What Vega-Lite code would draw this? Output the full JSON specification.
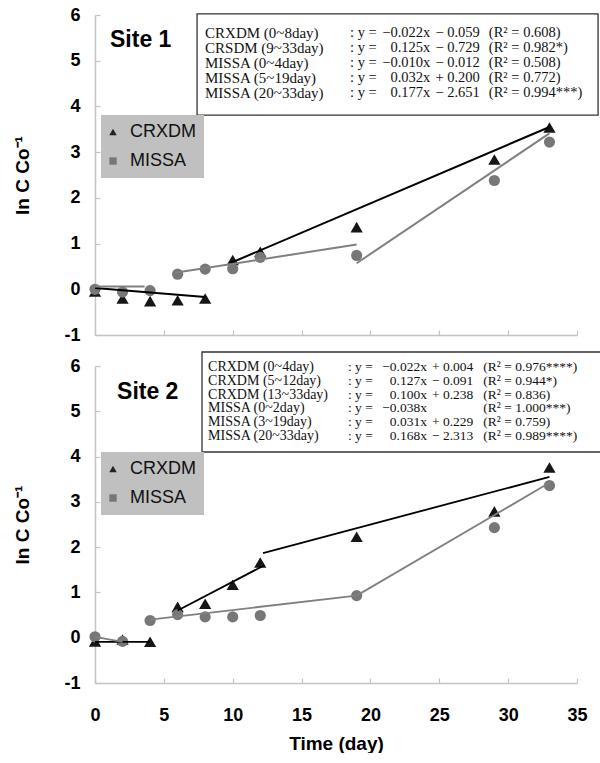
{
  "$schema": "https://vega.github.io/schema/vega-lite/v6.json",
  "background": "white",
  "padding": {"left": 13, "top": 6, "right": 0, "bottom": 0},
  "spacing": 7,
  "datasets": {
    "pts": [
      {"site": 1, "series": "CRXDM", "day": 0, "val": -0.05},
      {"site": 1, "series": "CRXDM", "day": 2, "val": -0.2},
      {"site": 1, "series": "CRXDM", "day": 4, "val": -0.26},
      {"site": 1, "series": "CRXDM", "day": 6, "val": -0.24},
      {"site": 1, "series": "CRXDM", "day": 8, "val": -0.2},
      {"site": 1, "series": "CRXDM", "day": 10, "val": 0.64},
      {"site": 1, "series": "CRXDM", "day": 12, "val": 0.82},
      {"site": 1, "series": "CRXDM", "day": 19, "val": 1.36},
      {"site": 1, "series": "CRXDM", "day": 29, "val": 2.84},
      {"site": 1, "series": "CRXDM", "day": 33, "val": 3.54},
      {"site": 1, "series": "MISSA", "day": 0, "val": 0.0},
      {"site": 1, "series": "MISSA", "day": 2, "val": -0.06},
      {"site": 1, "series": "MISSA", "day": 4, "val": -0.03},
      {"site": 1, "series": "MISSA", "day": 6, "val": 0.33},
      {"site": 1, "series": "MISSA", "day": 8, "val": 0.44},
      {"site": 1, "series": "MISSA", "day": 10, "val": 0.45},
      {"site": 1, "series": "MISSA", "day": 12, "val": 0.7},
      {"site": 1, "series": "MISSA", "day": 19, "val": 0.74},
      {"site": 1, "series": "MISSA", "day": 29, "val": 2.38},
      {"site": 1, "series": "MISSA", "day": 33, "val": 3.22},
      {"site": 2, "series": "CRXDM", "day": 0, "val": -0.08},
      {"site": 2, "series": "CRXDM", "day": 2, "val": -0.04},
      {"site": 2, "series": "CRXDM", "day": 4, "val": -0.09},
      {"site": 2, "series": "CRXDM", "day": 6, "val": 0.68},
      {"site": 2, "series": "CRXDM", "day": 8, "val": 0.75},
      {"site": 2, "series": "CRXDM", "day": 10, "val": 1.17},
      {"site": 2, "series": "CRXDM", "day": 12, "val": 1.66},
      {"site": 2, "series": "CRXDM", "day": 19, "val": 2.23},
      {"site": 2, "series": "CRXDM", "day": 29, "val": 2.79},
      {"site": 2, "series": "CRXDM", "day": 33, "val": 3.76},
      {"site": 2, "series": "MISSA", "day": 0, "val": 0.02},
      {"site": 2, "series": "MISSA", "day": 2, "val": -0.08},
      {"site": 2, "series": "MISSA", "day": 4, "val": 0.38},
      {"site": 2, "series": "MISSA", "day": 6, "val": 0.51},
      {"site": 2, "series": "MISSA", "day": 8, "val": 0.46},
      {"site": 2, "series": "MISSA", "day": 10, "val": 0.46},
      {"site": 2, "series": "MISSA", "day": 12, "val": 0.49},
      {"site": 2, "series": "MISSA", "day": 19, "val": 0.93},
      {"site": 2, "series": "MISSA", "day": 29, "val": 2.43},
      {"site": 2, "series": "MISSA", "day": 33, "val": 3.36}
    ],
    "segs": [
      {"site": 1, "seg": "a", "series": "CRXDM", "day": 0, "val": 0.03},
      {"site": 1, "seg": "a", "series": "CRXDM", "day": 8, "val": -0.17},
      {"site": 1, "seg": "b", "series": "CRXDM", "day": 9.8, "val": 0.57},
      {"site": 1, "seg": "b", "series": "CRXDM", "day": 33, "val": 3.55},
      {"site": 1, "seg": "c", "series": "MISSA", "day": 0, "val": 0.06},
      {"site": 1, "seg": "c", "series": "MISSA", "day": 3.6, "val": 0.06},
      {"site": 1, "seg": "d", "series": "MISSA", "day": 5.8, "val": 0.36},
      {"site": 1, "seg": "d", "series": "MISSA", "day": 19, "val": 0.98},
      {"site": 1, "seg": "e", "series": "MISSA", "day": 19, "val": 0.57},
      {"site": 1, "seg": "e", "series": "MISSA", "day": 33, "val": 3.41},
      {"site": 2, "seg": "a", "series": "CRXDM", "day": 0, "val": -0.09},
      {"site": 2, "seg": "a", "series": "CRXDM", "day": 4, "val": -0.09},
      {"site": 2, "seg": "b", "series": "CRXDM", "day": 6, "val": 0.6},
      {"site": 2, "seg": "b", "series": "CRXDM", "day": 12.3, "val": 1.6},
      {"site": 2, "seg": "c", "series": "CRXDM", "day": 12.2, "val": 1.87},
      {"site": 2, "seg": "c", "series": "CRXDM", "day": 33, "val": 3.55},
      {"site": 2, "seg": "d", "series": "MISSA", "day": 0, "val": 0.02},
      {"site": 2, "seg": "d", "series": "MISSA", "day": 2, "val": -0.09},
      {"site": 2, "seg": "e", "series": "MISSA", "day": 4, "val": 0.4},
      {"site": 2, "seg": "e", "series": "MISSA", "day": 19, "val": 0.93},
      {"site": 2, "seg": "f", "series": "MISSA", "day": 19, "val": 0.93},
      {"site": 2, "seg": "f", "series": "MISSA", "day": 33, "val": 3.42}
    ],
    "eqs": [
      {"site": 1, "ln": 1, "name": "CRXDM (0~8day)", "slope": "−0.022x", "icpt": "− 0.059", "r2": "(R² = 0.608)"},
      {"site": 1, "ln": 2, "name": "CRSDM (9~33day)", "slope": "0.125x", "icpt": "− 0.729", "r2": "(R² = 0.982*)"},
      {"site": 1, "ln": 3, "name": "MISSA (0~4day)", "slope": "−0.010x", "icpt": "− 0.012", "r2": "(R² = 0.508)"},
      {"site": 1, "ln": 4, "name": "MISSA (5~19day)", "slope": "0.032x", "icpt": "+ 0.200", "r2": "(R² = 0.772)"},
      {"site": 1, "ln": 5, "name": "MISSA (20~33day)", "slope": "0.177x", "icpt": "− 2.651", "r2": "(R² = 0.994***)"},
      {"site": 2, "ln": 1, "name": "CRXDM (0~4day)", "slope": "−0.022x", "icpt": "+ 0.004", "r2": "(R² = 0.976****)"},
      {"site": 2, "ln": 2, "name": "CRXDM (5~12day)", "slope": "0.127x", "icpt": "− 0.091", "r2": "(R² = 0.944*)"},
      {"site": 2, "ln": 3, "name": "CRXDM (13~33day)", "slope": "0.100x", "icpt": "+ 0.238", "r2": "(R² = 0.836)"},
      {"site": 2, "ln": 4, "name": "MISSA (0~2day)", "slope": "−0.038x", "icpt": "", "r2": "(R² = 1.000***)"},
      {"site": 2, "ln": 5, "name": "MISSA (3~19day)", "slope": "0.031x", "icpt": "+ 0.229", "r2": "(R² = 0.759)"},
      {"site": 2, "ln": 6, "name": "MISSA (20~33day)", "slope": "0.168x", "icpt": "− 2.313", "r2": "(R² = 0.989****)"}
    ]
  },
  "vconcat": [
    {
      "width": 482,
      "height": 320,
      "resolve": {"scale": {"y": "independent"}},
      "layer": [
        {
          "data": {"name": "pts"},
          "transform": [{"filter": "datum.site === 1 && datum.series === 'CRXDM'"}],
          "mark": {"type": "point", "shape": "triangle-up", "filled": true, "opacity": 1, "size": 150, "strokeWidth": 0, "color": "#161616"},
          "encoding": {
            "x": {"field": "day", "type": "quantitative", "scale": {"domain": [0, 35]}, "axis": {"values": [0, 5, 10, 15, 20, 25, 30, 35], "labels": false, "title": null}},
            "y": {"field": "val", "type": "quantitative", "scale": {"domain": [-1, 6]}, "axis": {"values": [-1, 0, 1, 2, 3, 4, 5, 6], "title": "ln C Co⁻¹", "labelExpr": "'' + datum.value"}}
          }
        },
        {
          "data": {"name": "pts"},
          "transform": [{"filter": "datum.site === 1 && datum.series === 'MISSA'"}],
          "mark": {"type": "point", "shape": "circle", "filled": true, "opacity": 1, "size": 125, "strokeWidth": 0, "color": "#777777"},
          "encoding": {
            "x": {"field": "day", "type": "quantitative", "scale": {"domain": [0, 35]}, "axis": {"values": [0, 5, 10, 15, 20, 25, 30, 35], "labels": false, "title": null}},
            "y": {"field": "val", "type": "quantitative", "scale": {"domain": [-1, 6]}, "axis": null}
          }
        },
        {
          "data": {"name": "pts"},
          "transform": [{"filter": "datum.site === 0"}],
          "mark": {"type": "point", "filled": true, "opacity": 1},
          "encoding": {
            "x": {"field": "day", "type": "quantitative", "scale": {"domain": [0, 35]}, "axis": {"values": [0, 5, 10, 15, 20, 25, 30, 35], "labels": false, "title": null}},
            "y": {"field": "val", "type": "quantitative", "scale": {"domain": [-1, 6]}, "axis": null},
            "shape": {"field": "series", "type": "nominal", "scale": {"domain": ["CRXDM", "MISSA"], "range": ["triangle-up", "square"]}, "legend": {"title": null, "orient": "none", "legendX": 6, "legendY": 100}},
            "color": {"field": "series", "type": "nominal", "scale": {"domain": ["CRXDM", "MISSA"], "range": ["#222222", "#777777"]}, "legend": {"title": null, "orient": "none", "legendX": 6, "legendY": 100}}
          }
        },
        {
          "data": {"name": "segs"},
          "transform": [{"filter": "datum.site === 1"}],
          "mark": {"type": "line", "strokeWidth": 2},
          "encoding": {
            "x": {"field": "day", "type": "quantitative", "scale": {"domain": [0, 35]}, "axis": {"values": [0, 5, 10, 15, 20, 25, 30, 35], "labels": false, "title": null}},
            "y": {"field": "val", "type": "quantitative", "scale": {"domain": [-1, 6]}, "axis": null},
            "detail": {"field": "seg"},
            "stroke": {"field": "series", "type": "nominal", "scale": {"domain": ["CRXDM", "MISSA"], "range": ["#000000", "#808080"]}, "legend": null}
          }
        },
        {
          "data": {"values": [{}]},
          "mark": {"type": "rect", "fill": "white", "stroke": "#333333", "strokeWidth": 1.3, "clip": false},
          "encoding": {
            "x": {"datum": 7.41, "type": "quantitative", "scale": {"domain": [0, 35]}, "axis": {"values": [0, 5, 10, 15, 20, 25, 30, 35], "labels": false, "title": null}},
            "x2": {"datum": 36.53},
            "y": {"datum": -0.27, "type": "quantitative", "scale": {"domain": [-0.2, 21.13], "reverse": true}, "axis": null},
            "y2": {"datum": 6.47}
          }
        },
        {
          "data": {"name": "eqs"},
          "transform": [{"filter": "datum.site === 1"}],
          "mark": {"type": "text", "align": "left", "baseline": "middle", "font": "Liberation Serif", "fontSize": 15, "color": "#111111", "clip": false},
          "encoding": {
            "x": {"datum": 7.99, "type": "quantitative", "scale": {"domain": [0, 35]}, "axis": {"values": [0, 5, 10, 15, 20, 25, 30, 35], "labels": false, "title": null}},
            "y": {"field": "ln", "type": "quantitative", "scale": {"domain": [-0.2, 21.13], "reverse": true}, "axis": null},
            "text": {"field": "name"}
          }
        },
        {
          "data": {"name": "eqs"},
          "transform": [{"filter": "datum.site === 1"}],
          "mark": {"type": "text", "align": "left", "baseline": "middle", "font": "Liberation Serif", "fontSize": 14.5, "color": "#111111", "clip": false},
          "encoding": {
            "x": {"datum": 18.52, "type": "quantitative", "scale": {"domain": [0, 35]}, "axis": {"values": [0, 5, 10, 15, 20, 25, 30, 35], "labels": false, "title": null}},
            "y": {"field": "ln", "type": "quantitative", "scale": {"domain": [-0.2, 21.13], "reverse": true}, "axis": null},
            "text": {"value": ": y ="}
          }
        },
        {
          "data": {"name": "eqs"},
          "transform": [{"filter": "datum.site === 1"}],
          "mark": {"type": "text", "align": "right", "baseline": "middle", "font": "Liberation Serif", "fontSize": 14.5, "color": "#111111", "clip": false},
          "encoding": {
            "x": {"datum": 24.35, "type": "quantitative", "scale": {"domain": [0, 35]}, "axis": {"values": [0, 5, 10, 15, 20, 25, 30, 35], "labels": false, "title": null}},
            "y": {"field": "ln", "type": "quantitative", "scale": {"domain": [-0.2, 21.13], "reverse": true}, "axis": null},
            "text": {"field": "slope"}
          }
        },
        {
          "data": {"name": "eqs"},
          "transform": [{"filter": "datum.site === 1"}],
          "mark": {"type": "text", "align": "left", "baseline": "middle", "font": "Liberation Serif", "fontSize": 14.5, "color": "#111111", "clip": false},
          "encoding": {
            "x": {"datum": 24.72, "type": "quantitative", "scale": {"domain": [0, 35]}, "axis": {"values": [0, 5, 10, 15, 20, 25, 30, 35], "labels": false, "title": null}},
            "y": {"field": "ln", "type": "quantitative", "scale": {"domain": [-0.2, 21.13], "reverse": true}, "axis": null},
            "text": {"field": "icpt"}
          }
        },
        {
          "data": {"name": "eqs"},
          "transform": [{"filter": "datum.site === 1"}],
          "mark": {"type": "text", "align": "left", "baseline": "middle", "font": "Liberation Serif", "fontSize": 14.5, "color": "#111111", "clip": false},
          "encoding": {
            "x": {"datum": 28.6, "type": "quantitative", "scale": {"domain": [0, 35]}, "axis": {"values": [0, 5, 10, 15, 20, 25, 30, 35], "labels": false, "title": null}},
            "y": {"field": "ln", "type": "quantitative", "scale": {"domain": [-0.2, 21.13], "reverse": true}, "axis": null},
            "text": {"field": "r2"}
          }
        },
        {
          "data": {"values": [{}]},
          "mark": {"type": "text", "align": "left", "baseline": "middle", "font": "Liberation Sans", "fontWeight": "bold", "fontSize": 23, "color": "#000000", "clip": false},
          "encoding": {
            "x": {"datum": 1.09, "type": "quantitative", "scale": {"domain": [0, 35]}, "axis": {"values": [0, 5, 10, 15, 20, 25, 30, 35], "labels": false, "title": null}},
            "y": {"datum": 1.47, "type": "quantitative", "scale": {"domain": [-0.2, 21.13], "reverse": true}, "axis": null},
            "text": {"value": "Site 1"}
          }
        }
      ]
    },
    {
      "width": 482,
      "height": 317,
      "resolve": {"scale": {"y": "independent"}},
      "layer": [
        {
          "data": {"name": "pts"},
          "transform": [{"filter": "datum.site === 2 && datum.series === 'CRXDM'"}],
          "mark": {"type": "point", "shape": "triangle-up", "filled": true, "opacity": 1, "size": 150, "strokeWidth": 0, "color": "#161616"},
          "encoding": {
            "x": {"field": "day", "type": "quantitative", "scale": {"domain": [0, 35]}, "axis": {"values": [0, 5, 10, 15, 20, 25, 30, 35], "title": "Time (day)"}},
            "y": {"field": "val", "type": "quantitative", "scale": {"domain": [-1, 6]}, "axis": {"values": [-1, 0, 1, 2, 3, 4, 5, 6], "title": "ln C Co⁻¹", "labelExpr": "'' + datum.value"}}
          }
        },
        {
          "data": {"name": "pts"},
          "transform": [{"filter": "datum.site === 2 && datum.series === 'MISSA'"}],
          "mark": {"type": "point", "shape": "circle", "filled": true, "opacity": 1, "size": 125, "strokeWidth": 0, "color": "#777777"},
          "encoding": {
            "x": {"field": "day", "type": "quantitative", "scale": {"domain": [0, 35]}, "axis": {"values": [0, 5, 10, 15, 20, 25, 30, 35], "title": "Time (day)"}},
            "y": {"field": "val", "type": "quantitative", "scale": {"domain": [-1, 6]}, "axis": null}
          }
        },
        {
          "data": {"name": "pts"},
          "transform": [{"filter": "datum.site === 0"}],
          "mark": {"type": "point", "filled": true, "opacity": 1},
          "encoding": {
            "x": {"field": "day", "type": "quantitative", "scale": {"domain": [0, 35]}, "axis": {"values": [0, 5, 10, 15, 20, 25, 30, 35], "title": "Time (day)"}},
            "y": {"field": "val", "type": "quantitative", "scale": {"domain": [-1, 6]}, "axis": null},
            "shape": {"field": "series", "type": "nominal", "scale": {"domain": ["CRXDM", "MISSA"], "range": ["triangle-up", "square"]}, "legend": {"title": null, "orient": "none", "legendX": 6, "legendY": 86}},
            "color": {"field": "series", "type": "nominal", "scale": {"domain": ["CRXDM", "MISSA"], "range": ["#222222", "#777777"]}, "legend": {"title": null, "orient": "none", "legendX": 6, "legendY": 86}}
          }
        },
        {
          "data": {"name": "segs"},
          "transform": [{"filter": "datum.site === 2"}],
          "mark": {"type": "line", "strokeWidth": 1.8},
          "encoding": {
            "x": {"field": "day", "type": "quantitative", "scale": {"domain": [0, 35]}, "axis": {"values": [0, 5, 10, 15, 20, 25, 30, 35], "title": "Time (day)"}},
            "y": {"field": "val", "type": "quantitative", "scale": {"domain": [-1, 6]}, "axis": null},
            "detail": {"field": "seg"},
            "stroke": {"field": "series", "type": "nominal", "scale": {"domain": ["CRXDM", "MISSA"], "range": ["#000000", "#808080"]}, "legend": null}
          }
        },
        {
          "data": {"values": [{}]},
          "mark": {"type": "rect", "fill": "white", "stroke": "#333333", "strokeWidth": 1.3, "clip": false},
          "encoding": {
            "x": {"datum": 7.77, "type": "quantitative", "scale": {"domain": [0, 35]}, "axis": {"values": [0, 5, 10, 15, 20, 25, 30, 35], "title": "Time (day)"}},
            "x2": {"datum": 36.8},
            "y": {"datum": -0.036, "type": "quantitative", "scale": {"domain": [0.964, 23.61], "reverse": true}, "axis": null},
            "y2": {"datum": 7.107}
          }
        },
        {
          "data": {"name": "eqs"},
          "transform": [{"filter": "datum.site === 2"}],
          "mark": {"type": "text", "align": "left", "baseline": "middle", "font": "Liberation Serif", "fontSize": 14, "color": "#111111", "clip": false},
          "encoding": {
            "x": {"datum": 8.21, "type": "quantitative", "scale": {"domain": [0, 35]}, "axis": {"values": [0, 5, 10, 15, 20, 25, 30, 35], "title": "Time (day)"}},
            "y": {"field": "ln", "type": "quantitative", "scale": {"domain": [0.964, 23.61], "reverse": true}, "axis": null},
            "text": {"field": "name"}
          }
        },
        {
          "data": {"name": "eqs"},
          "transform": [{"filter": "datum.site === 2"}],
          "mark": {"type": "text", "align": "left", "baseline": "middle", "font": "Liberation Serif", "fontSize": 13.5, "color": "#111111", "clip": false},
          "encoding": {
            "x": {"datum": 18.37, "type": "quantitative", "scale": {"domain": [0, 35]}, "axis": {"values": [0, 5, 10, 15, 20, 25, 30, 35], "title": "Time (day)"}},
            "y": {"field": "ln", "type": "quantitative", "scale": {"domain": [0.964, 23.61], "reverse": true}, "axis": null},
            "text": {"value": ": y ="}
          }
        },
        {
          "data": {"name": "eqs"},
          "transform": [{"filter": "datum.site === 2"}],
          "mark": {"type": "text", "align": "right", "baseline": "middle", "font": "Liberation Serif", "fontSize": 13.5, "color": "#111111", "clip": false},
          "encoding": {
            "x": {"datum": 24.1, "type": "quantitative", "scale": {"domain": [0, 35]}, "axis": {"values": [0, 5, 10, 15, 20, 25, 30, 35], "title": "Time (day)"}},
            "y": {"field": "ln", "type": "quantitative", "scale": {"domain": [0.964, 23.61], "reverse": true}, "axis": null},
            "text": {"field": "slope"}
          }
        },
        {
          "data": {"name": "eqs"},
          "transform": [{"filter": "datum.site === 2"}],
          "mark": {"type": "text", "align": "left", "baseline": "middle", "font": "Liberation Serif", "fontSize": 13.5, "color": "#111111", "clip": false},
          "encoding": {
            "x": {"datum": 24.47, "type": "quantitative", "scale": {"domain": [0, 35]}, "axis": {"values": [0, 5, 10, 15, 20, 25, 30, 35], "title": "Time (day)"}},
            "y": {"field": "ln", "type": "quantitative", "scale": {"domain": [0.964, 23.61], "reverse": true}, "axis": null},
            "text": {"field": "icpt"}
          }
        },
        {
          "data": {"name": "eqs"},
          "transform": [{"filter": "datum.site === 2"}],
          "mark": {"type": "text", "align": "left", "baseline": "middle", "font": "Liberation Serif", "fontSize": 13.5, "color": "#111111", "clip": false},
          "encoding": {
            "x": {"datum": 28.2, "type": "quantitative", "scale": {"domain": [0, 35]}, "axis": {"values": [0, 5, 10, 15, 20, 25, 30, 35], "title": "Time (day)"}},
            "y": {"field": "ln", "type": "quantitative", "scale": {"domain": [0.964, 23.61], "reverse": true}, "axis": null},
            "text": {"field": "r2"}
          }
        },
        {
          "data": {"values": [{}]},
          "mark": {"type": "text", "align": "left", "baseline": "middle", "font": "Liberation Sans", "fontWeight": "bold", "fontSize": 23, "color": "#000000", "clip": false},
          "encoding": {
            "x": {"datum": 1.6, "type": "quantitative", "scale": {"domain": [0, 35]}, "axis": {"values": [0, 5, 10, 15, 20, 25, 30, 35], "title": "Time (day)"}},
            "y": {"datum": 2.82, "type": "quantitative", "scale": {"domain": [0.964, 23.61], "reverse": true}, "axis": null},
            "text": {"value": "Site 2"}
          }
        }
      ]
    }
  ],
  "resolve": {
    "scale": {"color": "independent", "shape": "independent", "stroke": "independent"},
    "legend": {"color": "independent", "shape": "independent"}
  },
  "config": {
    "view": {"stroke": null},
    "axis": {
      "grid": false,
      "domainColor": "#c4c4c4",
      "domainWidth": 1.5,
      "tickColor": "#c4c4c4",
      "tickWidth": 1.2,
      "tickSize": -5,
      "labelFont": "Liberation Sans",
      "labelFontWeight": "bold",
      "labelFontSize": 18,
      "labelColor": "#000000",
      "labelOverlap": false,
      "labelFlush": false,
      "titleFont": "Liberation Sans",
      "titleFontWeight": "bold",
      "titleFontSize": 19,
      "titleColor": "#000000"
    },
    "axisY": {"labelPadding": 20, "titlePadding": 31},
    "axisX": {"labelPadding": 28, "titlePadding": 10},
    "legend": {
      "fillColor": "#c0c0c0",
      "padding": 8,
      "symbolSize": 55,
      "symbolStrokeWidth": 0,
      "symbolOffset": -5,
      "labelFont": "Liberation Sans",
      "labelFontSize": 18,
      "labelColor": "#111111",
      "labelOffset": 8,
      "rowPadding": 11
    }
  }
}
